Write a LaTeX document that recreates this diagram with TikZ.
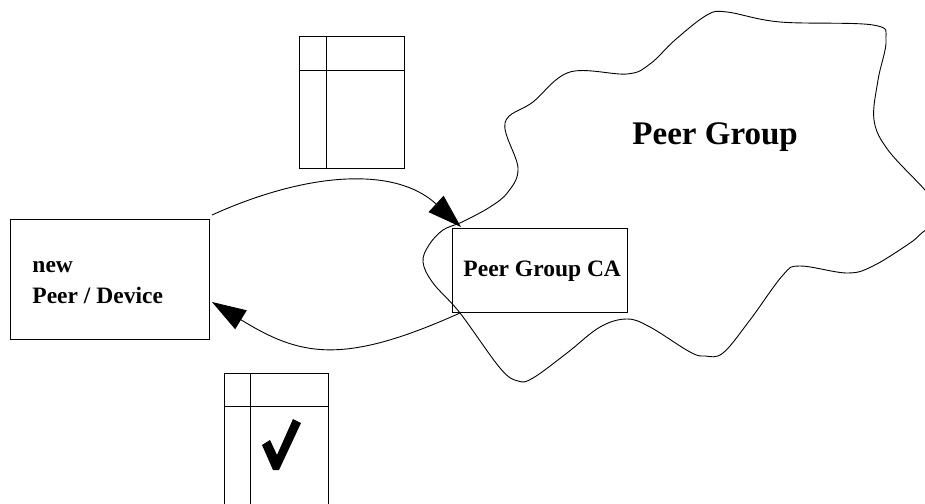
\documentclass[tikz,border=0pt]{standalone}
\usepackage{fontspec}
\setmainfont{Liberation Serif}
\usetikzlibrary{arrows.meta}
\begin{document}
\begin{tikzpicture}[x=1pt,y=-1pt,line width=0.9pt,
  frame/.style={draw,inner sep=0pt,outer sep=0pt,anchor=north west},
  lbl/.style={font=\fontsize{23.5}{31}\selectfont\bfseries,anchor=base west,inner sep=0pt},
  biglbl/.style={font=\fontsize{33}{40}\selectfont\bfseries,anchor=base west,inner sep=0pt},
  flow/.style={-{Triangle[length=34pt,width=22pt]}},
  sheet/.style={line width=1pt}]
\useasboundingbox (0,0) rectangle (925,503);
\clip (0,0) rectangle (925,503);

% peer group cloud
\draw[line width=0.9pt] plot[smooth cycle,tension=0.6] coordinates {
  (443,230) (462,222) (490,207) (508,192) (518,168) (505,123)
  (533,102) (570,72) (627,74) (650,64) (675,40) (707,15) (727,12)
  (780,22) (873,25) (886,40) (878,80) (874,120) (888,150) (925,190)
  (945,215) (923,232) (910,243) (873,266) (847,273) (800,266)
  (783,275) (750,320) (723,353) (705,356) (690,352) (650,327)
  (627,319) (600,327) (567,353) (533,378) (518,381) (500,368)
  (460,313) (433,283) (423,262) (429,245)};

% boxes
\node[frame,minimum width=199pt,minimum height=120pt] (dev) at (10,219) {};
\node[frame,minimum width=175pt,minimum height=84pt] (ca) at (452,228) {};

% labels
\node[lbl] (devnew) at (32,272) {new};
\node[lbl] (devname) at (32,303) {Peer / Device};
\node[lbl] (calbl) at (463,276) {Peer Group CA};
\node[biglbl] (pg) at (632,144) {Peer Group};

% request and reply
\coordinate (reqs) at ([shift={(3,-4)}]dev.north east);
\coordinate (reqe) at ([shift={(9,-1)}]ca.north west);
\coordinate (reps) at ([shift={(8,1)}]ca.south west);
\coordinate (repe) at ([shift={(3,-37)}]dev.south east);
\draw[flow] (reqs) .. controls (307,172) and (395,166) .. (reqe);
\draw[flow] (reps) .. controls (342,366) and (300,356) .. (repe);

% blank form
\node[frame,sheet,minimum width=105pt,minimum height=131pt] (form) at (299,37) {};
\draw[sheet] (form.north west) ++(27,0) coordinate (fv) -- (fv |- form.south);
\draw[sheet] (form.north west) ++(0,33) coordinate (fh) -- (fh -| form.east);

% signed form, running off the bottom edge
\node[frame,sheet,minimum width=104pt,minimum height=150pt] (cert) at (224,373) {};
\draw[sheet] (cert.north west) ++(26,0) coordinate (cv) -- (cv |- cert.south);
\draw[sheet] (cert.north west) ++(0,33) coordinate (ch) -- (ch -| cert.east);
\fill (262,445) -- (270,440) -- (277,455) -- (293,419) -- (301,423) -- (279,470) -- (273,470) -- cycle;
\end{tikzpicture}
\end{document}
